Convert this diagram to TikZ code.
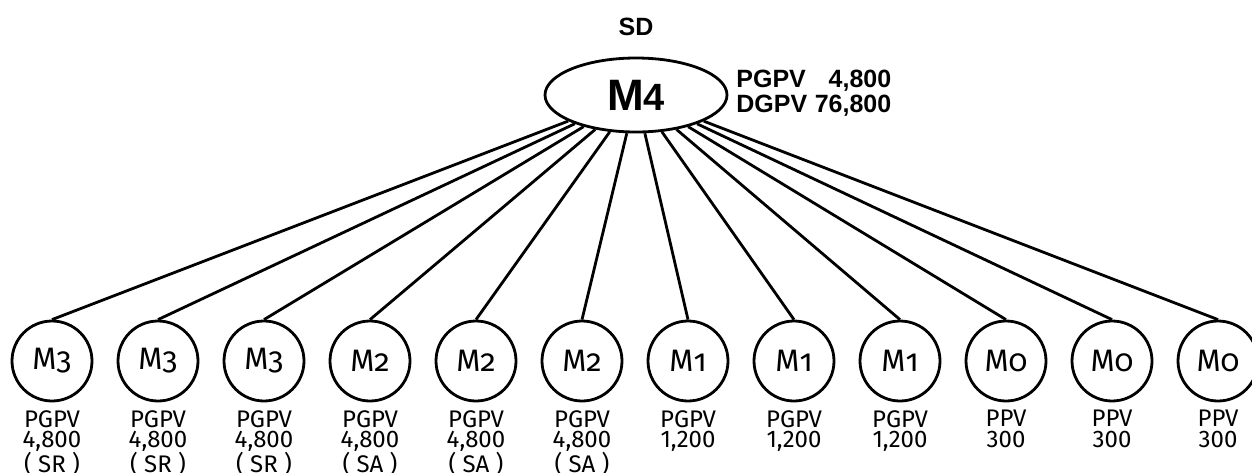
\documentclass[tikz,border=0pt]{standalone}
\usepackage{fontspec}
\setmainfont{Fira Sans}
\newfontfamily\osf{Fira Sans}[Numbers=OldStyle]
\newfontfamily\arial{Liberation Sans}
\usetikzlibrary{shapes.geometric}
\begin{document}
\begin{tikzpicture}[x=1pt,y=-1pt,line width=2.8pt,
  small/.style={circle,draw,minimum size=80pt,inner sep=0pt,font=\fontsize{31}{31}\selectfont},
  lab/.style={anchor=north,align=center,inner sep=0pt,font=\fontsize{24}{20.5}\selectfont},
  boldlab/.style={font=\arial\bfseries\fontsize{25}{24}\selectfont,inner sep=0pt}]
\useasboundingbox (0,0) rectangle (1252,472);
\node[ellipse,draw,minimum width=182pt,minimum height=74pt,inner sep=0pt] (top) at (636,95)
  {\arial\bfseries\fontsize{44}{44}\selectfont M\fontsize{38}{38}\selectfont 4};
\node[boldlab] (sd) at (636,27) {SD};
\node[boldlab,anchor=west] (val) at (735,95)
  {\begin{tabular}{@{}l@{\hspace{0.3em}}r@{}}PGPV & 4,800\\[1pt] DGPV & 76,800\end{tabular}};
\foreach \i/\d/\t in {1/3/{PGPV\\4,800\\( SR )},2/3/{PGPV\\4,800\\( SR )},3/3/{PGPV\\4,800\\( SR )},
  4/2/{PGPV\\4,800\\( SA )},5/2/{PGPV\\4,800\\( SA )},6/2/{PGPV\\4,800\\( SA )},
  7/1/{PGPV\\1,200},8/1/{PGPV\\1,200},9/1/{PGPV\\1,200},
  10/0/{PPV\\300},11/0/{PPV\\300},12/0/{PPV\\300}}{
  \pgfmathsetmacro{\xx}{52+106*(\i-1)}
  \node[small] (c\i) at (\xx,361) {M{\osf\d}};
  \node[lab] (l\i) at (\xx,409) {\t};
  \draw (top) -- (c\i.north);
}
\end{tikzpicture}
\end{document}
